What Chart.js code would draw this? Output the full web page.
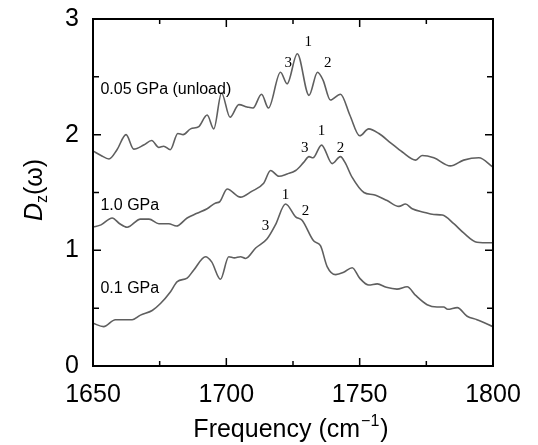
<!DOCTYPE html>
<html>
<head>
<meta charset="utf-8">
<script src="https://cdn.jsdelivr.net/npm/chart.js@4.4.1/dist/chart.umd.min.js"></script>
<style>
  html, body { margin: 0; padding: 0; background: #fff; }
  #wrap { width: 538px; height: 445px; }
</style>
</head>
<body>
<div id="wrap"><canvas id="myChart"></canvas></div>
<script>
// Spectra (frequency in cm^-1)

const freqUnload = [
  1650, 1653, 1656, 1659, 1662.4, 1665.3, 1669, 1672, 1674.7, 1676.5, 1679,
  1681.8, 1683.8, 1686.6, 1689.7, 1692.8, 1695.3, 1698.2, 1701.4, 1704.7,
  1707.8, 1710, 1713.2, 1715.8, 1720.3, 1722.8, 1726.6, 1731, 1734.2, 1736.3,
  1739, 1742.8, 1746.3, 1750, 1753.4, 1757.2, 1761.6, 1766, 1771, 1773.4,
  1777.8, 1784, 1789, 1794.7, 1800,
];
const valsUnload = [
  1.86, 1.82, 1.79, 1.87, 2.0, 1.875, 1.91, 1.95, 1.89, 1.9, 1.87,
  2.01, 2.0, 2.05, 2.07, 2.17, 2.05, 2.36, 2.15, 2.26,
  2.24, 2.23, 2.35, 2.23, 2.54, 2.44, 2.7, 2.34, 2.54, 2.47,
  2.3, 2.35, 2.17, 1.99, 2.05, 2.01, 1.93, 1.85, 1.78, 1.82,
  1.8, 1.73, 1.78, 1.8, 1.72,
];

const freqHigh = [
  1650, 1653, 1657.2, 1660, 1662.8, 1667.8, 1671, 1674.7, 1678.4, 1681.3,
  1685.3, 1689, 1692.8, 1696, 1697.5, 1700.3, 1705.3, 1709.5, 1714, 1716.6,
  1719.7, 1722.8, 1726, 1729, 1731, 1732.5, 1735.7, 1739.7, 1742.8, 1744.5,
  1747.2, 1751.6, 1755.3, 1760.3, 1764.7, 1767.2, 1769.7, 1774, 1777.8, 1781,
  1785.3, 1789, 1794, 1800,
];
const valsHigh = [
  1.2, 1.22, 1.28, 1.23, 1.2, 1.27, 1.27, 1.23, 1.23, 1.21,
  1.28, 1.32, 1.36, 1.41, 1.42, 1.53, 1.46, 1.51, 1.58, 1.69,
  1.64, 1.66, 1.69, 1.76, 1.81, 1.8, 1.91, 1.75, 1.81, 1.76,
  1.63, 1.5, 1.48, 1.43, 1.38, 1.4, 1.36, 1.33, 1.31, 1.305,
  1.23, 1.15, 1.07, 1.065,
];

const freqLow = [
  1650, 1654, 1658.4, 1664.7, 1667.8, 1672.2, 1675.3, 1679, 1681.6, 1685.3,
  1687.8, 1692.2, 1694.5, 1697.8, 1700.9, 1703, 1705.3, 1707.2, 1711, 1715.3,
  1718.4, 1722.2, 1726, 1728.4, 1732.8, 1735.3, 1737.8, 1741, 1744, 1747.2,
  1750, 1753.4, 1756.6, 1760, 1764, 1767.8, 1771, 1775.3, 1779, 1781.5,
  1783, 1786.6, 1790.3, 1794, 1800,
];
const valsLow = [
  0.37, 0.34, 0.4, 0.4, 0.44, 0.48, 0.54, 0.64, 0.73, 0.76,
  0.83, 0.945, 0.9, 0.75, 0.945, 0.935, 0.945, 0.93, 1.02, 1.1,
  1.22, 1.4, 1.29, 1.26, 1.08, 1.04, 0.86, 0.79, 0.81, 0.85,
  0.76, 0.7, 0.71, 0.68, 0.665, 0.685, 0.61, 0.53, 0.51, 0.51,
  0.49, 0.505, 0.43, 0.4, 0.34,
];

// Curve names, written at the left of each curve
const curveNames = ["0.05 GPa (unload)", "1.0 GPa", "0.1 GPa"];
const curveNameX = [1652.8, 1652.8, 1652.8];
const curveNameY = [2.39, 1.385, 0.67];

// Peak numbers
const peakText = ["3", "1", "2", "3", "1", "2", "3", "1", "2"];
const peakX = [1723.2, 1730.7, 1738, 1729.4, 1735.7, 1742.8, 1714.7, 1722.2, 1729.7];
const peakY = [2.62, 2.8, 2.62, 1.88, 2.03, 1.88, 1.21, 1.48, 1.34];

function toPoints(xs, ys) {
  return xs.map((x, i) => ({ x: x, y: ys[i] }));
}

const sansFont = "'Liberation Sans', Arial, sans-serif";
const lineColor = "#5f5f5f";

const decorations = {
  id: "decorations",
  afterDraw(chart) {
    const ctx = chart.ctx;
    const xs = chart.scales.x;
    const ys = chart.scales.y;
    const a = chart.chartArea;
    ctx.save();

    // frame
    ctx.strokeStyle = "#000";
    ctx.lineWidth = 2;
    ctx.strokeRect(a.left, a.top, a.right - a.left, a.bottom - a.top);

    // inward ticks on all four sides
    ctx.lineWidth = 1.5;
    ctx.beginPath();
    for (let f = 1675; f < 1800; f += 25) {
      const px = xs.getPixelForValue(f);
      const len = f % 50 === 0 ? 8 : 5;
      ctx.moveTo(px, a.bottom);
      ctx.lineTo(px, a.bottom - len);
      ctx.moveTo(px, a.top);
      ctx.lineTo(px, a.top + len);
    }
    for (let v = 0.5; v < 3; v += 0.5) {
      const py = ys.getPixelForValue(v);
      const len = v % 1 === 0 ? 8 : 6;
      ctx.moveTo(a.left, py);
      ctx.lineTo(a.left + len, py);
      ctx.moveTo(a.right, py);
      ctx.lineTo(a.right - len, py);
    }
    ctx.stroke();

    // curve names
    ctx.fillStyle = "#000";
    ctx.font = "16px " + sansFont;
    ctx.textBaseline = "middle";
    ctx.textAlign = "left";
    curveNames.forEach((t, i) => {
      ctx.fillText(t, xs.getPixelForValue(curveNameX[i]), ys.getPixelForValue(curveNameY[i]));
    });

    // peak numbers
    ctx.font = "15px 'Liberation Serif', 'Times New Roman', serif";
    ctx.textAlign = "center";
    peakText.forEach((t, i) => {
      ctx.fillText(t, xs.getPixelForValue(peakX[i]), ys.getPixelForValue(peakY[i]));
    });

    // x axis title with superscript
    ctx.textAlign = "left";
    ctx.textBaseline = "alphabetic";
    const big = "25px " + sansFont;
    const small = "16px " + sansFont;
    ctx.font = big;
    const w1 = ctx.measureText("Frequency (cm").width;
    const w3 = ctx.measureText(")").width;
    ctx.font = small;
    const w2 = ctx.measureText("\u22121").width;
    let tx = 290 - (w1 + w2 + w3) / 2;
    const ty = 437;
    ctx.font = big;
    ctx.fillText("Frequency (cm", tx, ty);
    ctx.font = small;
    ctx.fillText("\u22121", tx + w1 + 1, ty - 11);
    ctx.font = big;
    ctx.fillText(")", tx + w1 + w2 + 2, ty);

    // y axis title D_z(omega)
    ctx.translate(42, 190);
    ctx.rotate(-Math.PI / 2);
    ctx.font = "italic " + big;
    const d1 = ctx.measureText("D").width;
    ctx.font = small;
    const d2 = ctx.measureText("z").width;
    ctx.font = big;
    const d3 = ctx.measureText("(\u03c9)").width;
    let sx = -(d1 + d2 + d3) / 2;
    ctx.font = "italic " + big;
    ctx.fillText("D", sx, 0);
    ctx.font = small;
    ctx.fillText("z", sx + d1, 5);
    ctx.font = big;
    ctx.fillText("(\u03c9)", sx + d1 + d2, 0);

    ctx.restore();
  },
};

new Chart(document.getElementById("myChart"), {
  type: "line",
  data: {
    datasets: [
      { label: curveNames[0], data: toPoints(freqUnload, valsUnload) },
      { label: curveNames[1], data: toPoints(freqHigh, valsHigh) },
      { label: curveNames[2], data: toPoints(freqLow, valsLow) },
    ].map((d) => Object.assign(d, {
      borderColor: lineColor,
      borderWidth: 1.6,
      pointRadius: 0,
      fill: false,
      cubicInterpolationMode: "monotone",
    })),
  },
  options: {
    responsive: true,
    maintainAspectRatio: false,
    animation: false,
    layout: { padding: { left: 0, right: 45, top: 19, bottom: 0 } },
    plugins: { legend: { display: false }, tooltip: { enabled: false } },
    scales: {
      x: {
        type: "linear",
        min: 1650,
        max: 1800,
        grid: { display: false, drawTicks: false },
        border: { display: false },
        afterFit: (s) => {
          s.height = 79;
          s.paddingLeft = 0;
          s.paddingRight = 0;
        },
        ticks: {
          stepSize: 50,
          padding: 14,
          color: "#000",
          font: { family: sansFont, size: 25 },
          maxRotation: 0,
          callback: (v) => String(v),
        },
      },
      y: {
        min: 0,
        max: 3,
        grid: { display: false, drawTicks: false },
        border: { display: false },
        afterFit: (s) => {
          s.width = 93;
          s.paddingTop = 0;
          s.paddingBottom = 0;
        },
        ticks: {
          stepSize: 1,
          padding: 14,
          color: "#000",
          font: { family: sansFont, size: 25 },
          callback: (v) => String(v),
        },
      },
    },
  },
  plugins: [decorations],
});
</script>
</body>
</html>
